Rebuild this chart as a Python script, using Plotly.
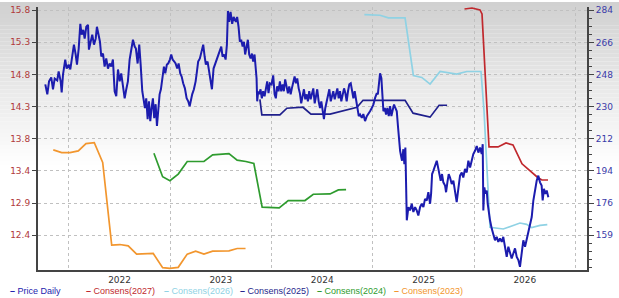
import plotly.graph_objects as go
from datetime import datetime

# ---------------- data (dates as decimal years) ----------------
price_t = [2021.766,2021.786,2021.803,2021.825,2021.842,2021.859,2021.884,2021.898,2021.918,2021.928,2021.941,2021.963,2021.977,2021.997,
2022.013,2022.033,2022.049,2022.066,2022.079,2022.096,2022.112,2022.125,2022.141,2022.155,2022.171,2022.188,2022.197,2022.214,2022.230,2022.247,
2022.264,2022.276,2022.293,2022.306,2022.319,2022.336,2022.352,2022.368,2022.385,2022.402,2022.418,2022.434,2022.451,2022.467,2022.484,2022.501,
2022.516,2022.533,2022.550,2022.566,2022.582,2022.599,2022.615,2022.632,2022.649,2022.661,2022.678,2022.694,2022.708,2022.724,2022.740,2022.750,
2022.763,2022.777,2022.790,2022.803,2022.816,2022.829,2022.842,2022.856,2022.869,2022.882,2022.895,2022.908,2022.925,2022.938,2022.951,2022.967,
2022.980,2022.997,2023.010,2023.024,2023.040,2023.053,2023.069,2023.083,2023.099,2023.113,2023.128,2023.145,2023.162,2023.178,2023.192,2023.204,
2023.217,2023.234,2023.251,2023.264,2023.276,2023.293,2023.310,2023.326,2023.340,2023.352,2023.369,2023.382,2023.399,2023.412,2023.428,2023.441,
2023.458,2023.474,2023.491,2023.504,2023.517,2023.533,2023.547,2023.560,2023.570,2023.582,2023.596,2023.612,2023.626,2023.639,2023.649,2023.661,
2023.675,2023.688,2023.701,2023.715,2023.728,2023.740,2023.754,2023.767,2023.780,2023.794,2023.807,2023.819,2023.833,2023.846,2023.853,2023.859,
2023.869,2023.879,2023.892,2023.905,2023.918,2023.932,2023.945,2023.958,2023.971,2023.984,2024.001,2024.017,2024.031,2024.043,2024.056,2024.070,
2024.083,2024.096,2024.110,2024.122,2024.135,2024.149,2024.162,2024.175,2024.189,2024.201,2024.214,2024.228,2024.241,2024.254,2024.268,2024.280,
2024.293,2024.307,2024.320,2024.333,2024.347,2024.359,2024.372,2024.386,2024.399,2024.412,2024.426,2024.438,2024.451,2024.465,2024.478,2024.491,
2024.505,2024.517,2024.530,2024.544,2024.557,2024.570,2024.584,2024.596,2024.609,2024.623,2024.636,2024.649,2024.662,2024.675,2024.688,2024.702,
2024.715,2024.728,2024.741,2024.754,2024.767,2024.781,2024.794,2024.807,2024.820,2024.833,2024.846,2024.860,2024.873,2024.890,2024.905,2024.922,
2024.939,2024.955,2024.971,2024.988,2025.004,2025.021,2025.038,2025.048,2025.060,2025.070,2025.083,2025.093,2025.103,2025.117,2025.129,2025.142,
2025.156,2025.169,2025.182,2025.196,2025.208,2025.221,2025.235,2025.248,2025.258,2025.268,2025.277,2025.287,2025.300,2025.310,2025.320,2025.327,
2025.334,2025.350,2025.366,2025.383,2025.399,2025.416,2025.432,2025.448,2025.465,2025.482,2025.498,2025.514,2025.531,2025.547,2025.564,2025.574,
2025.584,2025.596,2025.613,2025.630,2025.643,2025.656,2025.669,2025.682,2025.695,2025.712,2025.722,2025.735,2025.748,2025.761,2025.778,2025.794,
2025.811,2025.827,2025.843,2025.860,2025.877,2025.892,2025.909,2025.926,2025.942,2025.959,2025.975,2025.991,2026.008,2026.025,2026.041,2026.057,
2026.074,2026.084,2026.090,2026.100,2026.110,2026.124,2026.133,2026.143,2026.156,2026.173,2026.189,2026.205,2026.222,2026.238,2026.255,2026.272,
2026.287,2026.304,2026.321,2026.337,2026.354,2026.370,2026.386,2026.403,2026.420,2026.436,2026.452,2026.469,2026.485,2026.502,2026.518,2026.534,
2026.551,2026.568,2026.584,2026.600,2026.617,2026.633,2026.650,2026.666,2026.676,2026.689,2026.702,2026.716,2026.732]
price_v = [242.8,237.3,244.5,246.7,240.1,246.1,245.0,250.0,244.5,238.4,248.3,256.6,251.6,253.8,
251.1,259.4,264.9,259.4,253.8,262.7,276.4,270.4,273.1,268.2,274.8,275.9,262.1,266.5,270.4,264.9,
268.2,274.8,270.9,266.5,258.3,259.9,252.7,257.2,251.6,254.4,252.7,256.6,239.0,236.2,251.1,244.5,
248.9,240.1,235.1,240.1,244.5,256.6,262.7,267.6,263.8,262.7,254.4,264.9,253.8,239.0,233.4,229.6,
235.1,223.5,233.4,222.4,229.6,235.1,224.1,231.8,219.7,227.9,237.3,240.1,248.9,252.7,248.9,253.8,
254.4,256.6,259.4,256.6,255.5,254.4,251.6,254.4,248.9,247.2,243.4,240.6,235.1,233.4,230.7,235.1,
237.3,240.1,244.5,250.0,255.5,257.2,261.0,264.9,258.3,253.8,255.5,250.0,244.5,240.1,251.6,253.8,
256.6,258.3,261.0,263.8,258.3,259.4,256.6,264.9,283.6,277.6,283.1,276.4,280.3,278.7,277.6,280.3,
274.8,266.5,267.6,263.8,266.5,259.4,264.9,267.6,259.4,257.2,259.9,255.5,259.4,251.6,246.1,233.4,
239.0,237.3,240.1,235.1,239.0,236.2,240.1,244.5,237.9,243.4,242.8,247.8,237.3,235.1,241.7,239.0,
244.5,239.0,242.8,239.0,245.6,240.6,237.9,241.7,237.3,240.6,243.4,247.2,243.4,246.1,240.6,237.9,
232.3,236.2,240.1,234.5,237.3,233.4,239.0,234.5,237.9,240.6,232.3,236.2,240.1,233.4,229.6,233.4,
229.0,223.5,229.6,233.4,237.3,240.1,233.4,236.2,239.0,234.5,237.3,240.6,235.1,239.0,233.4,237.3,
240.6,237.9,233.4,239.0,242.8,243.4,240.1,235.1,239.0,234.5,229.6,225.2,226.1,224.2,226.3,222.4,
225.2,227.0,227.9,229.7,231.6,235.3,238.0,237.3,244.5,249.0,246.3,237.1,227.9,229.7,226.1,229.7,
225.2,230.7,225.2,228.9,231.6,229.7,227.9,218.7,208.6,205.9,203.1,200.4,206.8,198.5,207.7,182.0,
167.3,174.6,172.8,176.5,171.9,174.6,172.8,170.0,174.6,176.5,174.6,179.2,178.3,182.9,176.5,182.0,
193.0,194.8,197.6,200.4,196.7,192.1,189.3,193.0,188.4,186.6,182.9,188.4,193.0,191.1,187.5,189.3,
182.9,177.4,184.8,192.1,193.9,191.1,195.8,193.9,200.4,196.7,200.4,204.1,205.9,208.6,204.9,207.7,
204.1,209.6,172.8,185.6,182.2,183.8,176.5,171.0,167.3,162.7,160.0,156.2,158.1,155.3,157.2,155.3,
158.1,152.6,147.0,152.6,148.9,146.1,148.9,151.7,147.0,145.2,141.5,148.9,156.2,152.6,156.2,160.0,
163.6,169.1,178.3,183.8,189.3,192.1,188.4,186.6,178.3,184.8,182.0,183.8,180.1]

c2027_t = [2025.904,2025.978,2026.057,2026.077,2026.146,2026.235,2026.314,2026.383,2026.472,2026.551,2026.630,2026.669,2026.729]
c2027_v = [15.81,15.825,15.795,15.735,13.725,13.725,13.785,13.755,13.47,13.365,13.26,13.225,13.225]

c2026_t = [2024.915,2025.070,2025.152,2025.317,2025.399,2025.482,2025.564,2025.663,2025.827,2025.926,2026.067,2026.097,2026.117,2026.139,
2026.156,2026.287,2026.354,2026.452,2026.518,2026.568,2026.650,2026.722]
c2026_v = [15.725,15.715,15.675,15.675,14.805,14.775,14.675,14.865,14.825,14.865,14.865,14.265,13.665,12.915,
12.51,12.485,12.525,12.575,12.555,12.505,12.54,12.55]

c2025_t = [2023.886,2023.905,2024.083,2024.152,2024.310,2024.389,2024.577,2024.843,2024.902,2025.317,2025.396,2025.564,2025.653,2025.732]
c2025_v = [14.445,14.21,14.21,14.31,14.325,14.22,14.22,14.325,14.43,14.43,14.235,14.175,14.355,14.355]

c2024_t = [2022.839,2022.925,2022.997,2023.079,2023.168,2023.333,2023.419,2023.580,2023.661,2023.747,2023.826,2023.908,2024.076,2024.165,
2024.330,2024.412,2024.577,2024.659,2024.735]
c2024_v = [13.63,13.275,13.215,13.315,13.505,13.505,13.605,13.625,13.525,13.505,13.475,12.815,12.805,12.915,
12.915,13.01,13.015,13.075,13.08]

c2023_t = [2021.845,2021.928,2022.010,2022.092,2022.168,2022.250,2022.333,2022.422,2022.503,2022.585,2022.668,2022.832,2022.925,2022.997,
2023.079,2023.168,2023.251,2023.333,2023.419,2023.580,2023.661,2023.744]
c2023_v = [13.68,13.64,13.64,13.665,13.775,13.79,13.49,12.24,12.25,12.23,12.105,12.115,11.9,11.89,
11.905,12.105,12.15,12.105,12.15,12.155,12.19,12.19]

left_tickvals = [12.39, 12.876, 13.362, 13.848, 14.334, 14.82, 15.306, 15.792]
left_ticktext = ["12.4", "12.9", "13.4", "13.8", "14.3", "14.8", "15.3", "15.8"]
right_tickvals = [159, 176.857, 194.714, 212.571, 230.429, 248.286, 266.143, 284]
right_ticktext = ["159", "176", "194", "212", "230", "248", "266", "284"]

series = [
    ("Price Daily", price_t, price_v, "#1c1cae", "y2", 2.0),
    ("Consens(2027)", c2027_t, c2027_v, "#c0282d", "y", 1.7),
    ("Consens(2026)", c2026_t, c2026_v, "#8fd2e4", "y", 1.7),
    ("Consens(2025)", c2025_t, c2025_v, "#1f1f8c", "y", 1.7),
    ("Consens(2024)", c2024_t, c2024_v, "#2e9b2e", "y", 1.7),
    ("Consens(2023)", c2023_t, c2023_v, "#f2962e", "y", 1.7),
]


def to_date(t):
    y = int(t)
    a = datetime(y, 1, 1)
    b = datetime(y + 1, 1, 1)
    return a + (b - a) * (t - y)


fig = go.Figure()
order = [0, 5, 4, 3, 2, 1]
for i in order:
    name, ts, vs, col, ax, w = series[i]
    fig.add_trace(go.Scatter(x=[to_date(t) for t in ts], y=vs, mode="lines", name=name,
                             yaxis=ax, line=dict(color=col, width=w), showlegend=False))

W, H = 619, 298
ML, MR, MT, MB = 38, 32, 5, 28
pw, ph = W - ML - MR, H - MT - MB

shapes = []
# background gradient (grey at top fading to white)
step = 4
for py in range(0, 170, step):
    g = int(round(208 + (255 - 208) * min(1.0, (py + step / 2) / 165.0)))
    shapes.append(dict(type="rect", xref="paper", yref="paper", layer="below",
                       x0=-ML / pw, x1=1 + MR / pw,
                       y0=(H - MB - (py + step)) / ph, y1=(H - MB - py) / ph,
                       fillcolor=f"rgb({g},{g},{g})", line=dict(width=0)))

annotations = []
leg_x = [8, 84, 162, 238, 315, 392]
for (name, ts, vs, col, ax, w), lx in zip(series, leg_x):
    annotations.append(dict(xref="paper", yref="paper", x=(lx - ML) / pw, y=(H - MB - 291) / ph,
                            xanchor="left", yanchor="middle", showarrow=False,
                            text=f"<b>–</b> {name}",
                            font=dict(family="Liberation Sans", size=9, color=col)))

fig.update_layout(
    width=W, height=H, margin=dict(l=ML, r=MR, t=MT, b=MB),
    paper_bgcolor="white", plot_bgcolor="rgba(0,0,0,0)",
    showlegend=False, font=dict(family="DejaVu Sans", size=9),
    shapes=shapes, annotations=annotations,
    xaxis=dict(type="date", range=[to_date(2021.694), to_date(2027.114)],
               tick0="2022-01-01", dtick="M12", ticklabelmode="period", tickformat="%Y",
               showgrid=True, gridcolor="#c0c0c0", griddash="dot", gridwidth=1,
               showline=True, linecolor="#444", linewidth=2, ticks="",
               tickfont=dict(color="#333", size=9), zeroline=False),
    yaxis=dict(range=[11.865, 15.84], tickvals=left_tickvals, ticktext=left_ticktext,
               tickfont=dict(color="#b03a3a", size=9),
               showgrid=True, gridcolor="#c0c0c0", griddash="dot", gridwidth=1,
               showline=True, linecolor="#444", linewidth=2,
               ticks="outside", ticklen=4, tickcolor="#444", zeroline=False),
    yaxis2=dict(overlaying="y", side="right", range=[139.7, 285.8],
                tickvals=right_tickvals, ticktext=right_ticktext,
                tickfont=dict(color="#3a3aa8", size=9),
                showgrid=False, showline=True, linecolor="#444", linewidth=2,
                ticks="outside", ticklen=5, tickcolor="#444", zeroline=False,
                minor=dict(ticks="outside", ticklen=3, tickcolor="#444",
                           tick0=159, dtick=17.857 / 4, showgrid=False)),
)

fig.write_html("out.html")
